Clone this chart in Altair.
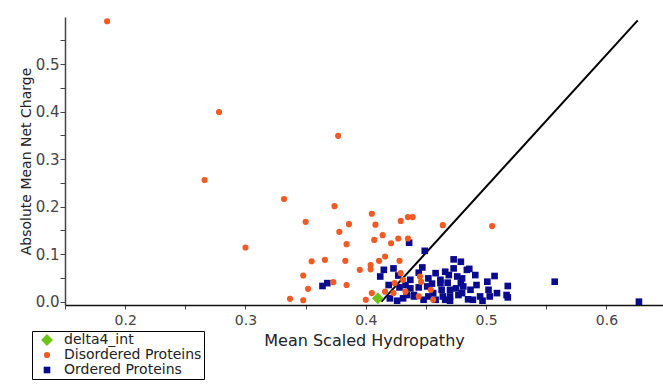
import altair as alt
import pandas as pd

# Mean scaled hydropathy (h) and absolute mean net charge (r) per protein
disordered_h = [0.185, 0.278, 0.266, 0.377, 0.300, 0.332, 0.374, 0.350, 0.405, 0.386,
                0.378, 0.408, 0.407, 0.384, 0.355, 0.366, 0.383, 0.395, 0.404, 0.404,
                0.411, 0.348, 0.373, 0.384, 0.352, 0.337, 0.348, 0.400, 0.405, 0.414,
                0.429, 0.435, 0.439, 0.464, 0.421, 0.427, 0.435, 0.416, 0.428, 0.429,
                0.431, 0.424, 0.416, 0.423, 0.433, 0.445, 0.446, 0.454, 0.444, 0.456,
                0.505]
disordered_r = [0.590, 0.399, 0.256, 0.349, 0.114, 0.216, 0.201, 0.168, 0.185, 0.163,
                0.147, 0.162, 0.130, 0.121, 0.085, 0.088, 0.086, 0.067, 0.077, 0.068,
                0.086, 0.055, 0.041, 0.035, 0.027, 0.006, 0.003, 0.004, 0.018, 0.140,
                0.170, 0.178, 0.178, 0.161, 0.123, 0.133, 0.133, 0.095, 0.086, 0.060,
                0.046, 0.039, 0.021, 0.018, 0.021, 0.053, 0.042, 0.025, 0.011, 0.004,
                0.159]

ordered_h = [0.364, 0.368, 0.436, 0.449, 0.415, 0.423, 0.412, 0.444, 0.437, 0.428,
             0.437, 0.440, 0.431, 0.451, 0.452, 0.462, 0.463, 0.470, 0.469, 0.473,
             0.479, 0.476, 0.481, 0.477, 0.484, 0.419, 0.420, 0.486, 0.491, 0.507,
             0.501, 0.518, 0.517, 0.518, 0.557, 0.627, 0.502, 0.495, 0.503, 0.487,
             0.480, 0.479, 0.470, 0.464, 0.462, 0.452, 0.434, 0.440, 0.466, 0.470,
             0.489, 0.485, 0.458, 0.448, 0.426, 0.444, 0.456, 0.458, 0.473, 0.447,
             0.427, 0.492, 0.497, 0.509, 0.480, 0.468, 0.455, 0.433, 0.466, 0.475]
ordered_r = [0.033, 0.039, 0.124, 0.107, 0.067, 0.070, 0.053, 0.061, 0.046, 0.030,
             0.028, 0.011, 0.007, 0.032, 0.011, 0.046, 0.025, 0.011, 0.056, 0.089,
             0.084, 0.053, 0.032, 0.014, 0.067, 0.035, 0.007, 0.069, 0.056, 0.054,
             0.042, 0.033, 0.014, 0.009, 0.042, 0.000, 0.025, 0.011, 0.011, 0.025,
             0.049, 0.039, 0.025, 0.011, 0.039, 0.049, 0.014, 0.014, 0.004, 0.002,
             0.004, 0.005, 0.004, 0.004, 0.002, 0.030, 0.018, 0.060, 0.070, 0.072,
             0.055, 0.035, 0.002, 0.018, 0.018, 0.040, 0.038, 0.035, 0.063, 0.028]

delta_h = [0.410]
delta_r = [0.007]

# Charge-hydropathy boundary line end points
boundary_h = [0.413, 0.626]
boundary_r = [0.000, 0.592]

series_names = ["delta4_int", "Disordered Proteins", "Ordered Proteins"]
series_colors = ["#6cc417", "#f15a24", "#0a0a8c"]
series_shapes = ["diamond", "circle", "square"]
series_sizes = [140, 38, 44]

# Draw order: ordered first, disordered on top, delta4_int last
points = pd.concat([
    pd.DataFrame({"h": ordered_h, "r": ordered_r, "series": series_names[2]}),
    pd.DataFrame({"h": disordered_h, "r": disordered_r, "series": series_names[1]}),
    pd.DataFrame({"h": delta_h, "r": delta_r, "series": series_names[0]}),
], ignore_index=True)
boundary = pd.DataFrame({"h": boundary_h, "r": boundary_r})

FONT = "DejaVu Sans"
x_ticks = [0.15, 0.2, 0.25, 0.3, 0.35, 0.4, 0.45, 0.5, 0.55, 0.6]
y_ticks = [0.0, 0.05, 0.1, 0.15, 0.2, 0.25, 0.3, 0.35, 0.4, 0.45, 0.5, 0.55]
label_expr = ("abs(datum.value * 10 - round(datum.value * 10)) < 0.01 "
              "? format(datum.value, '.1f') : ''")

x_enc = alt.X(
    "h:Q",
    scale=alt.Scale(domain=[0.150, 0.647], nice=False, zero=False),
    axis=alt.Axis(
        title="Mean Scaled Hydropathy", values=x_ticks, labelExpr=label_expr,
        grid=False, domainColor="#111", domainWidth=1.5, tickColor="#444",
        tickSize=4, labelFont=FONT, labelFontSize=14, labelColor="#444",
        labelPadding=4, titleFont=FONT, titleFontSize=16, titleFontWeight="normal",
        titleColor="#222", titlePadding=5, labelFlush=False,
    ),
)
y_enc = alt.Y(
    "r:Q",
    scale=alt.Scale(domain=[-0.007, 0.599], nice=False, zero=False),
    axis=alt.Axis(
        title="Absolute Mean Net Charge", values=y_ticks, labelExpr=label_expr,
        grid=False, domainColor="#444", domainWidth=1.5, tickColor="#444",
        tickSize=5, labelFont=FONT, labelFontSize=15, labelColor="#444",
        labelPadding=1, titleFont=FONT, titleFontSize=14, titleFontWeight="normal",
        titleColor="#222", titlePadding=2, labelFlush=False,
    ),
)

line = alt.Chart(boundary).mark_line(color="black", strokeWidth=2, clip=True).encode(
    x=x_enc, y=y_enc
)

legend = alt.Legend(
    title=None, orient="none", legendX=-33, legendY=314,
    strokeColor="black", padding=2, fillColor="white",
    labelFont=FONT, labelFontSize=14, labelColor="#222", rowPadding=1,
    symbolOpacity=1, symbolStrokeWidth=0, labelLimit=300, symbolOffset=6,
    labelOffset=10,
)

pts = alt.Chart(points).mark_point(filled=True, opacity=1, strokeWidth=0).encode(
    x=x_enc,
    y=y_enc,
    color=alt.Color("series:N", scale=alt.Scale(domain=series_names, range=series_colors),
                    legend=legend),
    shape=alt.Shape("series:N", scale=alt.Scale(domain=series_names, range=series_shapes),
                    legend=legend),
    size=alt.Size("series:N",
                  scale=alt.Scale(type="ordinal", domain=series_names, range=series_sizes),
                  legend=legend),
)

chart = alt.layer(line, pts).properties(
    width=598, height=288,
    autosize=alt.AutoSizeParams(type="none"),
    padding={"left": 65, "top": 17, "right": 0, "bottom": 79},
    background="white",
).configure_view(stroke=None)

chart.save("out.html", embed_options={"renderer": "svg", "actions": False})
